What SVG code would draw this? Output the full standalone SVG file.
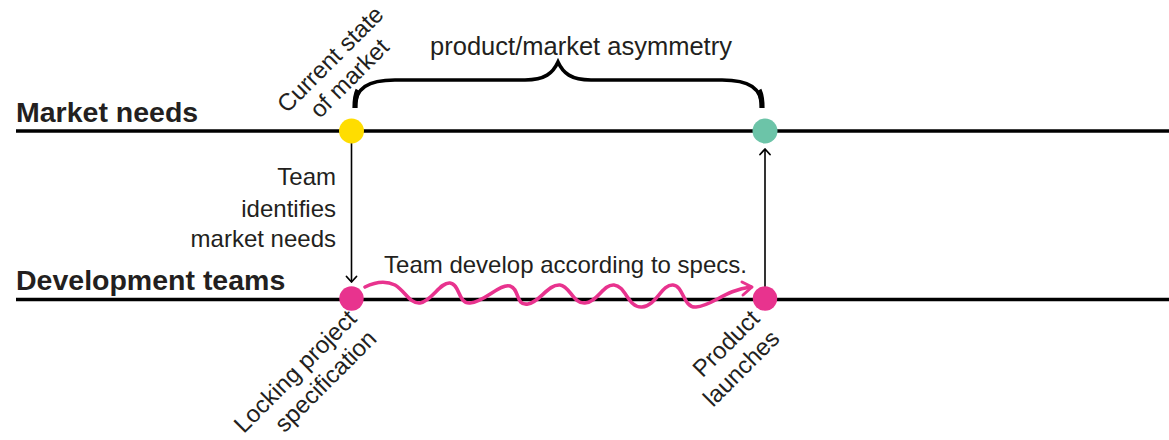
<svg xmlns="http://www.w3.org/2000/svg" width="1169" height="440" viewBox="0 0 1169 440">
<style>
  text { font-family: "Liberation Sans", Arial, sans-serif; fill: #231f20; }
  .lane { font-weight: bold; font-size: 28.5px; }
  .lbl { font-size: 24px; }
  .track { stroke: #000; stroke-width: 3.5; fill: none; }
  .conn { stroke: #000; stroke-width: 1.6; fill: none; }
  .head { stroke: #000; stroke-width: 1.8; fill: none; stroke-linecap: round; stroke-linejoin: round; }
  .brace { fill: none; stroke: #000; }
</style>
<rect width="1169" height="440" fill="#fff"/>

<g id="lanes">
  <line class="track" x1="16" y1="131" x2="1169" y2="131"/>
  <line class="track" x1="16" y1="299.5" x2="1169" y2="299.5"/>
  <text class="lane" x="16" y="122">Market needs</text>
  <text class="lane" x="16" y="290">Development teams</text>
</g>

<g id="connectors">
  <line class="conn" x1="351.5" y1="143" x2="351.5" y2="281"/>
  <polyline class="head" points="346.5,276.5 351.5,282 356.5,276.5"/>
  <line class="conn" x1="765" y1="287" x2="765" y2="150"/>
  <polyline class="head" points="760,154.5 765,149 770,154.5"/>
  <path id="wave" fill="none" stroke="#e8338e" stroke-width="3.6" stroke-linecap="round" stroke-linejoin="round"
    d="M365,287 C375,282 385,280 395,285 C405,291 410,304 420,303 C432,301 440,282 450,283 C460,284 458,304 470,303 C485,302 500,283 510,286 C520,289 515,306 528,304 C540,302 548,284 560,285 C570,286 573,304 585,303 C598,302 603,284 614,285 C626,286 628,308 642,307 C656,306 662,284 673,285 C684,286 683,308 696,307 C712,306 725,290 751,287"/>
  <polyline fill="none" stroke="#e8338e" stroke-width="3" stroke-linecap="round" stroke-linejoin="round" points="742,282 752,287 743,295"/>
  <text class="lbl" x="565.5" y="273" text-anchor="middle">Team develop according to specs.</text>
  <text class="lbl" x="336" y="185" text-anchor="end">Team</text>
  <text class="lbl" x="336" y="216.5" text-anchor="end">identifies</text>
  <text class="lbl" x="336" y="247" text-anchor="end">market needs</text>
</g>

<g id="asymmetry">
  <path class="brace" stroke-width="3.6" d="M355,108 C355,88 368,80 395,80 L525,80 C545,80 553,73 558,62 C563,73 571,80 591,80 L722,80 C749,80 762,88 762,108"/>
  <path class="brace" stroke-width="5.2" d="M355,108 C355,100 356,94 358,90"/>
  <path class="brace" stroke-width="5.2" d="M762,108 C762,100 761,94 759,90"/>
  <text x="581" y="55" text-anchor="middle" style="font-size:25.5px">product/market asymmetry</text>
</g>

<g id="current-state">
  <circle cx="351.5" cy="131" r="12.5" fill="#ffdd00"/>
  <text class="lbl" text-anchor="middle" transform="translate(336,65) rotate(-45)">Current state</text>
  <text class="lbl" text-anchor="middle" transform="translate(355,84) rotate(-45)">of market</text>
</g>

<g id="market-reached">
  <circle cx="765" cy="131" r="12.5" fill="#6cc4a8"/>
</g>

<g id="locking-spec">
  <circle cx="351.5" cy="298.5" r="12.2" fill="#e8338e"/>
  <text class="lbl" text-anchor="end" transform="translate(358,320) rotate(-45)">Locking project</text>
  <text class="lbl" text-anchor="end" transform="translate(378,340) rotate(-45)">specification</text>
</g>

<g id="product-launch">
  <circle cx="765" cy="298.5" r="12.2" fill="#e8338e"/>
  <text class="lbl" text-anchor="end" transform="translate(761,320) rotate(-45)">Product</text>
  <text class="lbl" text-anchor="end" transform="translate(781,340) rotate(-45)">launches</text>
</g>
</svg>
